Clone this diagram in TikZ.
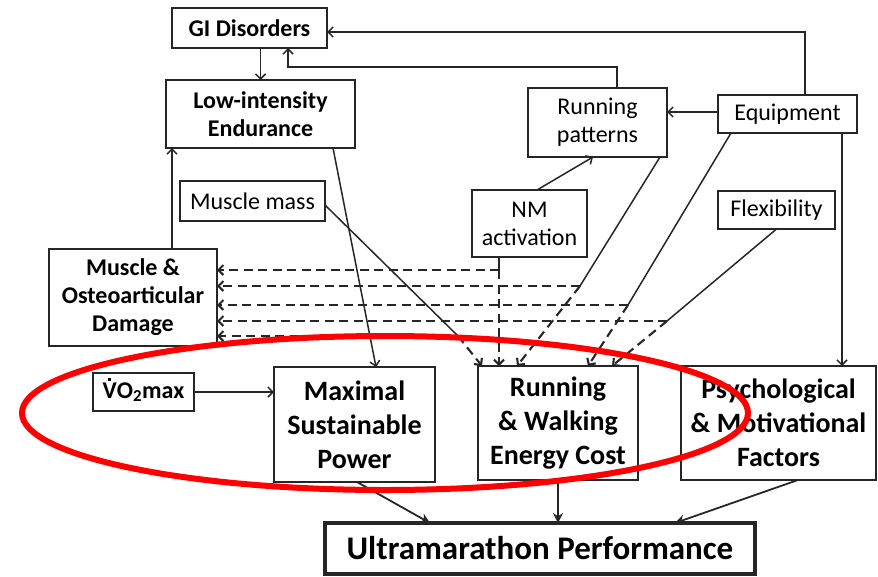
\documentclass[tikz,border=0pt]{standalone}
\usepackage{fontspec}
\setmainfont{Carlito}
\usetikzlibrary{arrows.meta,calc}
\newcommand{\vdotV}{{\ooalign{V\cr\hidewidth\raisebox{0.72em}{\rule{0.13em}{0.13em}}\hidewidth\cr}}}
\begin{document}
\begin{tikzpicture}[x=1pt,y=-1pt,
  box/.style={draw=black!85, line width=1.4pt, inner sep=0pt, outer sep=0pt, align=center, fill=white,
    font=\fontsize{24}{28}\selectfont},
  bbox/.style={box, line width=2.2pt, font=\fontsize{24}{28}\selectfont\bfseries},
  bigbox/.style={box, line width=2.6pt, font=\fontsize{28}{34}\selectfont\bfseries},
  ultrabox/.style={box, line width=4pt, font=\fontsize{33}{38}\selectfont\bfseries},
  conn/.style={draw=black!85, line width=1.5pt},
  arr/.style={conn, -{Straight Barb[length=5pt,width=10pt]}},
  solidarr/.style={draw=black!85, line width=1.8pt, -{Stealth[length=10pt,width=10pt]}},
  dline/.style={draw=black!85, line width=2.1pt, dash pattern=on 9pt off 5.5pt},
  darr/.style={dline, -{Straight Barb[length=5pt,width=10pt]}},
  halo/.style={draw=red, line width=6pt}
]
\useasboundingbox (0,0) rectangle (878,576);

% nodes
\node[bbox, minimum width=155pt, minimum height=40pt] (gi) at (249.5,28) {GI Disorders};
\node[bbox, minimum width=189pt, minimum height=68pt] (lie) at (260.5,114) {Low-intensity\\Endurance};
\node[box, minimum width=139pt, minimum height=69pt] (rp) at (597.5,122.5) {Running\\patterns};
\node[box, minimum width=139pt, minimum height=38pt] (eq) at (787.5,114) {Equipment};
\node[box, minimum width=117pt, minimum height=38pt] (flex) at (776.5,210) {Flexibility};
\node[box, minimum width=115pt, minimum height=67pt] (nm) at (529.5,223.5) {NM\\activation};
\node[box, minimum width=145pt, minimum height=40pt] (mm) at (252.5,201) {Muscle mass};
\node[bbox, minimum width=168pt, minimum height=97pt] (dmg) at (133,297.5) {Muscle \&\\Osteoarticular\\Damage};
\node[bbox, minimum width=101pt, minimum height=38pt] (vo2) at (143.5,392) {\vdotV O\textsubscript{2}max};
\node[bigbox, minimum width=161pt, minimum height=115pt] (msp) at (354.5,424.5) {Maximal\\Sustainable\\Power};
\node[bigbox, minimum width=160pt, minimum height=114pt] (rw) at (558,423) {Running\\\& Walking\\Energy Cost};
\node[bigbox, minimum width=195pt, minimum height=114pt] (psy) at (778.5,423) {Psychological\\\& Motivational\\Factors};
\node[ultrabox, minimum width=430pt, minimum height=51pt] (ultra) at (540,548.5) {Ultramarathon Performance};

% helper coordinates
\coordinate (k1) at (288,67);
\coordinate (eqr) at ([xshift=54.5pt]eq.south);
\coordinate (dmgtop) at ([xshift=39pt]dmg.north);
\coordinate (j1) at (499,270);
\coordinate (j2) at (580,286);
\coordinate (j3) at (628,305);
\coordinate (j4) at (667,321);
\coordinate (j5) at (458,336);

% top connectors
\draw[arr] (lie.north |- gi.south) -- (lie.north);
\draw[arr] ([xshift=17.5pt]eq.north) |- ([yshift=-4pt]gi.east);
\draw[arr] ([xshift=19.5pt]rp.north) |- (k1) -- ([xshift=38.5pt]gi.south);
\draw[arr] ([yshift=2pt]eq.west) -- ([yshift=2pt]eq.west -| rp.east);
\draw[arr] (eqr) -- (eqr |- psy.north);
\draw[arr] ([xshift=7.5pt]nm.north) -- ([xshift=-4.5pt]rp.south);
\draw[arr] (dmgtop) -- (dmgtop |- lie.south);
\draw[arr] ([xshift=72.5pt]lie.south) -- ([xshift=21.5pt]msp.north);

% solid parts to junctions
\draw[conn] ([yshift=-4pt]mm.east) -- (j5);
\draw[conn] ([xshift=-30.5pt]nm.south) -- (j1);
\draw[conn] ([xshift=62.5pt]rp.south) -- (j2);
\draw[conn] ([xshift=-56.5pt]eq.south) -- (j3);
\draw[conn] (flex.south) -- (j4);

% dashed to damage
\draw[darr] (j1) -- (dmg.east |- j1);
\draw[darr] (j2) -- (dmg.east |- j2);
\draw[darr] (j3) -- (dmg.east |- j3);
\draw[darr] (j4) -- (dmg.east |- j4);
\draw[darr] (j5) -- (dmg.east |- j5);

% dashed to running & walking
\draw[darr] (j5) -- ([xshift=-76pt]rw.north);
\draw[darr] (j1) -- ([xshift=-59pt]rw.north);
\draw[darr] (j2) -- ([xshift=-41pt]rw.north);
\draw[darr] (j3) -- ([xshift=30pt]rw.north);
\draw[darr] (j4) -- ([xshift=54pt]rw.north);

% lower connectors
\draw[arr] (vo2.east) -- (vo2.east -| msp.west);
\draw[solidarr] ([xshift=2.5pt]msp.south) -- ([xshift=-110pt]ultra.north);
\draw[solidarr] (rw.south) -- (rw.south |- ultra.north);
\draw[solidarr] ([xshift=19.5pt]psy.south) -- ([xshift=135pt]ultra.north);

% red ellipse
\draw[halo] (385,413) ellipse [x radius=363, y radius=77];
\end{tikzpicture}
\end{document}
